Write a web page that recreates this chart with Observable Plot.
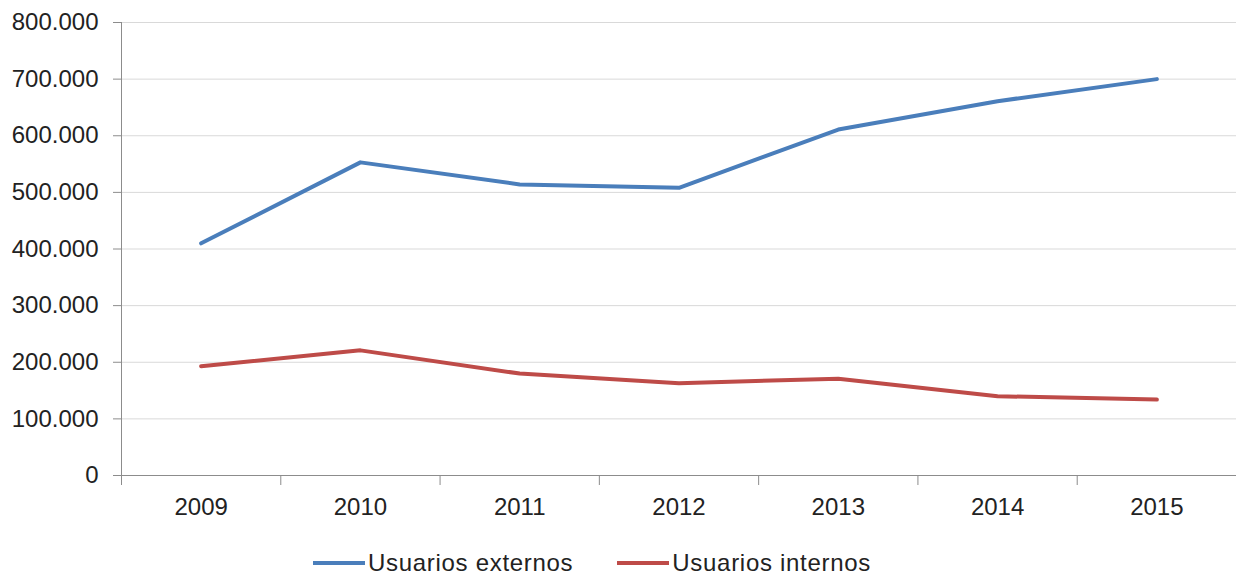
<!DOCTYPE html>
<html>
<head>
<meta charset="utf-8">
<script src="https://cdn.jsdelivr.net/npm/d3@7"></script>
<script src="https://cdn.jsdelivr.net/npm/@observablehq/plot@0.6"></script>
<style>
  html, body { margin: 0; padding: 0; background: #fff; }
  body { width: 1236px; height: 576px; overflow: hidden; font-family: "Liberation Sans", Arial, sans-serif; }
  #legend { display: flex; align-items: center; margin-top: 29px; margin-left: 313px; font-size: 24px; color: #222; line-height: 28px; letter-spacing: 0.7px; }
  .item { display: flex; align-items: center; margin-right: 44px; }
  .swatch { width: 52px; height: 4px; margin-right: 3px; }
</style>
</head>
<body>
<div id="chart"></div>
<div id="legend"></div>
<script>
const years = [2009, 2010, 2011, 2012, 2013, 2014, 2015];
const externos = [410000, 553000, 514000, 508000, 611000, 661000, 700000];
const internos = [193000, 221000, 180000, 163000, 171000, 140000, 134000];
const seriesNames = ["Usuarios externos", "Usuarios internos"];
const seriesColors = ["#4A7EBB", "#BE4B48"];
const yTicks = [0, 100000, 200000, 300000, 400000, 500000, 600000, 700000, 800000];

const rows = [];
years.forEach((yr, i) => {
  rows.push({year: yr, value: externos[i], series: seriesNames[0]});
  rows.push({year: yr, value: internos[i], series: seriesNames[1]});
});

const fmt = d3.formatLocale({decimal: ",", thousands: ".", grouping: [3], currency: ["", ""]}).format(",d");
const x0 = years[0] - 0.5, x1 = years[years.length - 1] + 0.5;
const bounds = years.map(y => y - 0.5).concat([x1]);

const chart = Plot.plot({
  width: 1236,
  height: 520,
  marginTop: 22,
  marginBottom: 45,
  marginLeft: 121,
  marginRight: 0,
  style: {fontFamily: "'Liberation Sans', Arial, sans-serif", fontSize: "24px", color: "#222", background: "#fff"},
  x: {type: "linear", domain: [x0, x1]},
  y: {domain: [0, 800000]},
  color: {domain: seriesNames, range: seriesColors},
  marks: [
    Plot.gridY(yTicks.filter(d => d > 0), {stroke: "#d9d9d9", strokeOpacity: 1}),
    Plot.ruleY([0], {stroke: "#8c8c8c"}),
    Plot.ruleX([x0], {stroke: "#8c8c8c"}),
    Plot.axisY({ticks: yTicks, tickFormat: fmt, tickSize: 8, tickPadding: 15, stroke: "#8c8c8c", fill: "#222", fontSize: 24, label: null}),
    Plot.axisX({ticks: bounds, tickFormat: () => "", tickSize: 10, stroke: "#8c8c8c", label: null}),
    Plot.axisX({ticks: years, tickFormat: d => String(d), tickSize: 0, tickPadding: 22, fill: "#222", fontSize: 24, label: null}),
    Plot.line(rows, {x: "year", y: "value", stroke: "series", strokeWidth: 4, z: "series"})
  ]
});
document.getElementById("chart").appendChild(chart);

const legend = document.getElementById("legend");
seriesNames.forEach((name, i) => {
  const item = document.createElement("div");
  item.className = "item";
  const sw = document.createElement("div");
  sw.className = "swatch";
  sw.style.background = seriesColors[i];
  const label = document.createElement("span");
  label.textContent = name;
  item.appendChild(sw);
  item.appendChild(label);
  legend.appendChild(item);
});
</script>
</body>
</html>
